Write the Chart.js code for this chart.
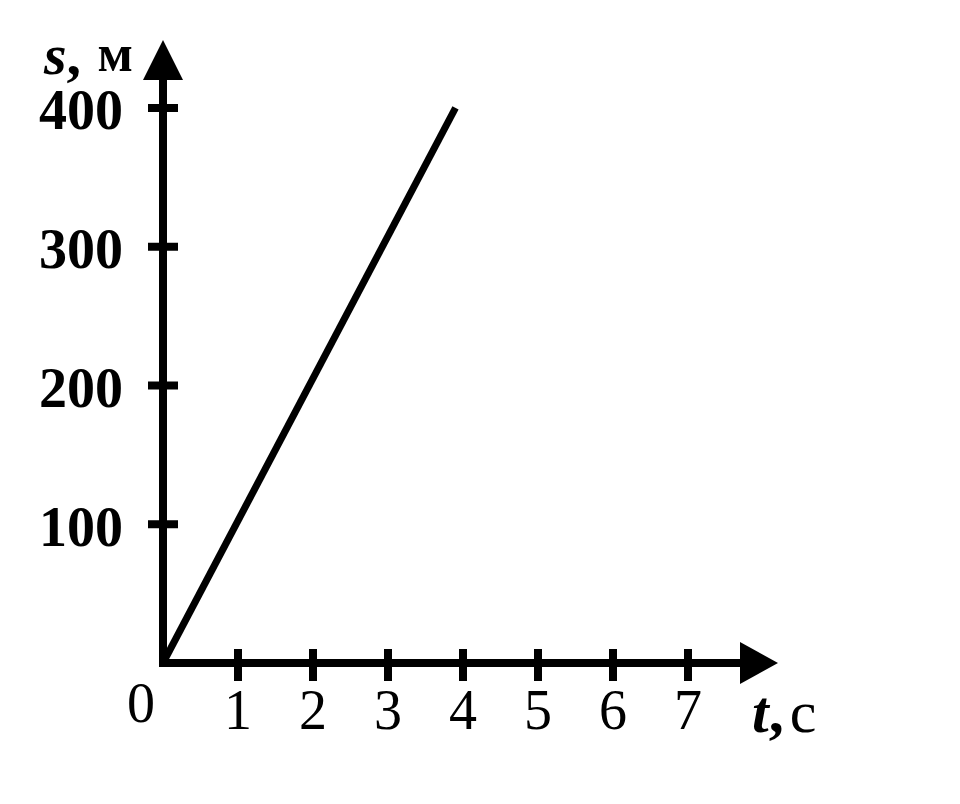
<!DOCTYPE html>
<html>
<head>
<meta charset="utf-8">
<title>s(t)</title>
<script src="https://cdn.jsdelivr.net/npm/chart.js@4.4.1/dist/chart.umd.min.js"></script>
<style>
  html, body { margin: 0; padding: 0; background: #fff; }
  canvas { display: block; }
</style>
</head>
<body>
<canvas id="grafico" width="960" height="804"></canvas>
<script>
// dados
const tempo = [0, 3.9];
const distancia = [0, 400];
const ticksTempo = [1, 2, 3, 4, 5, 6, 7];
const ticksDistancia = [100, 200, 300, 400];

const fonte = "'Liberation Serif', 'DejaVu Serif', serif";

// desenha eixos com setas, marcas e títulos
const eixosPlugin = {
  id: "eixos",
  afterDatasetsDraw(chart) {
    const ctx = chart.ctx;
    const x = chart.scales.x;
    const y = chart.scales.y;
    const x0 = x.getPixelForValue(0);
    const y0 = y.getPixelForValue(0);
    const xFim = x.getPixelForValue(x.max);
    const yFim = y.getPixelForValue(y.max);

    ctx.save();
    ctx.strokeStyle = "#000";
    ctx.fillStyle = "#000";
    ctx.lineWidth = 8;
    ctx.lineCap = "square";

    ctx.beginPath();
    ctx.moveTo(x0, y0);
    ctx.lineTo(xFim - 34, y0);
    ctx.moveTo(x0, y0);
    ctx.lineTo(x0, yFim + 36);
    ctx.stroke();

    // setas
    ctx.beginPath();
    ctx.moveTo(xFim, y0);
    ctx.lineTo(xFim - 38, y0 - 21);
    ctx.lineTo(xFim - 38, y0 + 21);
    ctx.closePath();
    ctx.fill();

    ctx.beginPath();
    ctx.moveTo(x0, yFim);
    ctx.lineTo(x0 - 20, yFim + 40);
    ctx.lineTo(x0 + 20, yFim + 40);
    ctx.closePath();
    ctx.fill();

    // marcas
    ctx.lineCap = "butt";
    ctx.lineWidth = 8;
    ctx.beginPath();
    ticksTempo.forEach(v => {
      const px = x.getPixelForValue(v);
      ctx.moveTo(px, y0 - 14);
      ctx.lineTo(px, y0 + 18);
    });
    ctx.stroke();
    ctx.beginPath();
    ticksDistancia.forEach(v => {
      const py = y.getPixelForValue(v);
      ctx.moveTo(x0 - 15, py);
      ctx.lineTo(x0 + 15, py);
    });
    ctx.stroke();

    // zero
    ctx.font = "56px " + fonte;
    ctx.textAlign = "center";
    ctx.textBaseline = "middle";
    ctx.fillText("0", x0 - 22, y0 + 44);

    // títulos
    ctx.textAlign = "left";
    ctx.textBaseline = "alphabetic";
    let px = 44;
    ctx.font = "italic bold 58px " + fonte;
    ctx.fillText("s", px, 74);
    px += ctx.measureText("s").width;
    ctx.font = "bold 58px " + fonte;
    ctx.fillText(", ", px, 74);
    px += ctx.measureText(", ").width + 2;
    ctx.font = "bold 52px " + fonte;
    ctx.fillText("м", px, 71);

    px = 752;
    ctx.font = "italic bold 60px " + fonte;
    ctx.fillText("t", px, 732);
    px += ctx.measureText("t").width;
    ctx.font = "bold 60px " + fonte;
    ctx.fillText(",", px, 732);
    px += ctx.measureText(",").width + 6;
    ctx.font = "60px " + fonte;
    ctx.fillText("c", px, 732);

    ctx.restore();
  }
};

function semPadding(s) {
  s.paddingTop = 0;
  s.paddingBottom = 0;
  s.paddingLeft = 0;
  s.paddingRight = 0;
}

const ctx = document.getElementById("grafico").getContext("2d");
const grafico = new Chart(ctx, {
  type: "scatter",
  data: {
    datasets: [{
      data: tempo.map((t, i) => ({ x: t, y: distancia[i] })),
      showLine: true,
      borderColor: "#000",
      borderWidth: 7,
      pointRadius: 0,
      borderCapStyle: "butt",
      clip: false
    }]
  },
  options: {
    responsive: false,
    animation: false,
    layout: { padding: { left: 0, top: 40, right: 182, bottom: 0 } },
    plugins: {
      legend: { display: false },
      tooltip: { enabled: false }
    },
    scales: {
      x: {
        type: "linear",
        min: 0,
        max: 8.2,
        afterFit: s => { s.height = 141; semPadding(s); },
        afterBuildTicks: s => { s.ticks = ticksTempo.map(v => ({ value: v })); },
        grid: { display: false, drawTicks: false },
        border: { display: false },
        ticks: {
          color: "#000",
          padding: 18,
          maxRotation: 0,
          font: { family: fonte, size: 56 }
        }
      },
      y: {
        type: "linear",
        min: 0,
        max: 449,
        afterFit: s => { s.width = 163; semPadding(s); },
        afterBuildTicks: s => { s.ticks = ticksDistancia.map(v => ({ value: v })); },
        grid: { display: false, drawTicks: false },
        border: { display: false },
        ticks: {
          color: "#000",
          padding: 40,
          labelOffset: 7,
          font: { family: fonte, size: 56, weight: "bold" }
        }
      }
    }
  },
  plugins: [eixosPlugin]
});
</script>
</body>
</html>
